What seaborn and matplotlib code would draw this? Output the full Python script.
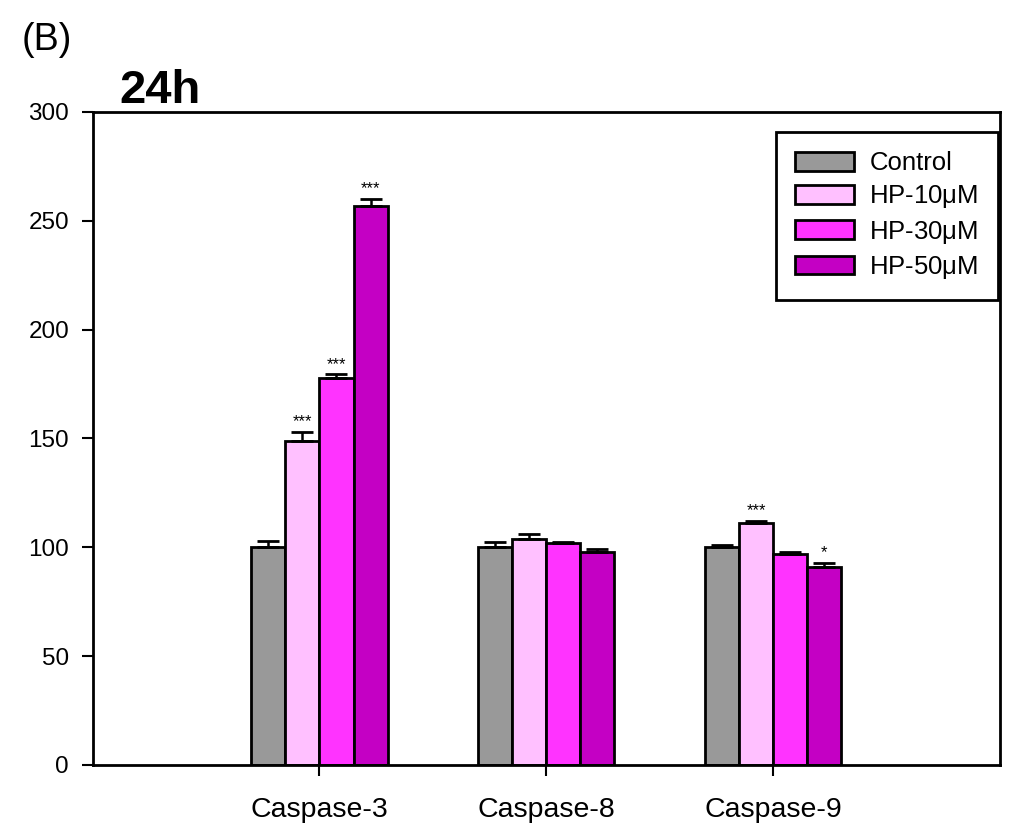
# Caspase activity at 24h, grouped bars with SEM error bars.

import numpy as np
import pandas as pd
import matplotlib
matplotlib.use('Agg')
import matplotlib.pyplot as plt
import seaborn as sns

# Data.

enzymes = ['Caspase-3', 'Caspase-8', 'Caspase-9']
groups = ['Control', 'HP-10$\\mu$M', 'HP-30$\\mu$M', 'HP-50$\\mu$M']
control = [100, 100, 100]
hp10 = [149, 104, 111]
hp30 = [178, 102, 97]
hp50 = [257, 98, 91]
control_err = [3, 2.5, 1]
hp10_err = [4, 2, 1]
hp30_err = [1.5, 0.5, 1]
hp50_err = [3, 1, 2]
stars = [['', '***', '***', '***'],
         ['', '', '', ''],
         ['', '***', '', '*']]

colors = ['#999999', '#FFC0FF', '#FF33FF', '#C400C4']

# Build a long table for seaborn.

values = [control, hp10, hp30, hp50]
errors = [control_err, hp10_err, hp30_err, hp50_err]
rows = []
for g, vals, errs in zip(groups, values, errors):
    for e, v, s in zip(enzymes, vals, errs):
        rows.append({'Enzyme': e, 'Group': g, 'Value': v, 'Err': s})
df = pd.DataFrame(rows)

sns.set_style('white')
plt.rcParams['font.family'] = ['Liberation Sans', 'DejaVu Sans']
plt.rcParams['mathtext.fontset'] = 'custom'
plt.rcParams['mathtext.rm'] = 'Liberation Sans'
plt.rcParams['mathtext.it'] = 'Liberation Sans'
for key in ['text.color', 'axes.labelcolor', 'xtick.color', 'ytick.color']:
    plt.rcParams[key] = 'black'

fig = plt.figure(figsize=(10.24, 8.4), dpi=100)
ax = fig.add_axes([0.0905, 0.0893, 0.886, 0.7774])

sns.barplot(data=df, x='Enzyme', y='Value', hue='Group', order=enzymes,
            hue_order=groups, palette=colors, width=0.6, errorbar=None,
            edgecolor='black', linewidth=2, saturation=1, ax=ax)

# Error bars (upper only) and significance marks.

for i, g in enumerate(groups):
    cont = ax.containers[i]
    for j, bar in enumerate(cont):
        xc = bar.get_x() + bar.get_width() / 2
        top = bar.get_height()
        err = errors[i][j]
        ax.errorbar(xc, top, yerr=[[0], [err]], fmt='none', ecolor='black',
                    elinewidth=1.8, capsize=8, capthick=2)
        if stars[j][i]:
            ax.text(xc, top + err + 1.2, stars[j][i], ha='center',
                    va='bottom', fontsize=12)

ax.set_xlim(-1, 3)
ax.set_ylim(0, 300)
ax.set_yticks(np.arange(0, 301, 50))
ax.set_xlabel('')
ax.set_ylabel('')
ax.tick_params(axis='y', direction='out', length=8, width=1.5,
               labelsize=17.5, left=True, pad=9)
ax.tick_params(axis='x', direction='out', length=8, width=1.5,
               labelsize=20.5, bottom=True, pad=15)
for sp in ax.spines.values():
    sp.set_linewidth(2)
    sp.set_color('black')

leg = ax.legend(loc='upper right', bbox_to_anchor=(0.9978, 0.9694),
                borderaxespad=0, fontsize=18.5, frameon=True, fancybox=False,
                edgecolor='black', framealpha=1, handlelength=2.3,
                handleheight=0.75, borderpad=0.75, labelspacing=0.32,
                handletextpad=0.6)
leg.get_frame().set_linewidth(2)

ax.text(0.029, 1.0138, '24h', transform=ax.transAxes, fontsize=34,
        fontweight='bold', ha='left', va='baseline')
fig.text(0.021, 0.952, '(B)', fontsize=27, ha='left', va='center')

fig.savefig('out.png', dpi=100)
